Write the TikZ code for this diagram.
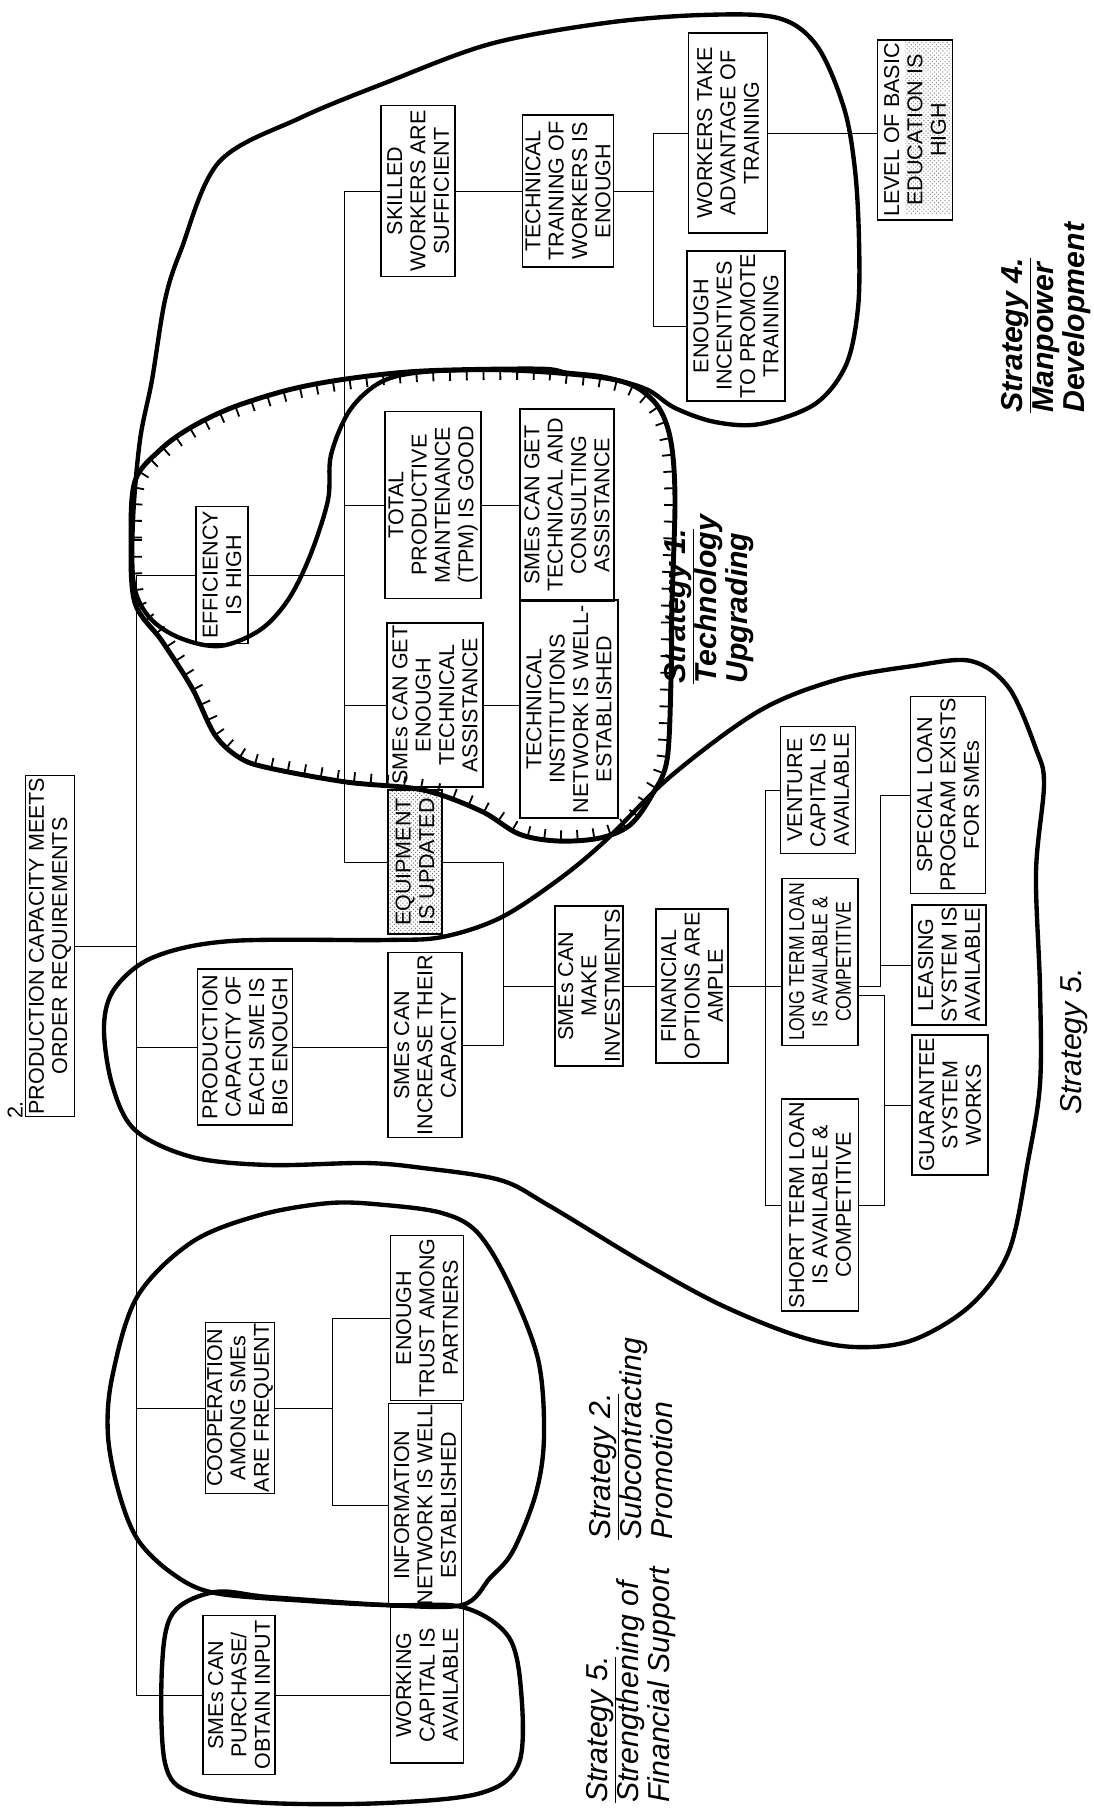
\documentclass[tikz,border=0pt]{standalone}
\usepackage{fontspec}
\setmainfont{Liberation Sans}
\newfontfamily\narrowfont[FakeStretch=0.82]{Liberation Sans}
\usetikzlibrary{decorations.markings,patterns}

\newcommand\boxfont{\fontsize{15.3}{16.6}\selectfont}
\newcommand\stratfont{\fontsize{21.5}{22.2}\selectfont}

\tikzset{
  box/.style={draw, line width=0.9pt, rotate=90, align=center, inner sep=1pt, font=\boxfont},
  sz/.style 2 args={minimum height=#1*0.025cm, minimum width=#2*0.025cm},
  link/.style={line width=0.7pt},
  blob/.style={line width=3.1pt, line join=round},
  hatched/.style={line width=3.5pt, line join=round,
    postaction={decorate, decoration={markings,
      mark=between positions 0 and 1 step 0.42cm with {\draw[line width=1.3pt] (0,0) -- (0,0.27cm);}}}},
  strat/.style={rotate=90, align=left, anchor=north west, inner sep=0pt, font=\stratfont\itshape},
}

\begin{document}
\begin{tikzpicture}[x=0.025cm, y=-0.025cm]
\useasboundingbox (0,0) rectangle (1093,1808);

% stipple on the basic education box
\fill[pattern=crosshatch dots, pattern color=black!45] (905,40) rectangle (951,214);

% goal
\node[box, sz={49}{341}] (root) at (50,946) {PRODUCTION CAPACITY MEETS\\ORDER REQUIREMENTS};
\node[rotate=90, font=\boxfont] (num) at (15,1110) {2.};

% efficiency branch
\node[box, sz={52}{137}] (eff) at (222,575) {EFFICIENCY\\IS HIGH};
\node[box, sz={74}{171}] (skill) at (418,191) {SKILLED\\WORKERS ARE\\SUFFICIENT};
\node[box, sz={91}{152}] (train) at (568,191) {TECHNICAL\\TRAINING OF\\WORKERS IS\\ENOUGH};
\node[box, sz={79}{200}] (wtake) at (728,133) {WORKERS TAKE\\ADVANTAGE OF\\TRAINING};
\node[box, sz={98}{150}] (incent) at (736,326) {ENOUGH\\INCENTIVES\\TO PROMOTE\\TRAINING};
\node[box, sz={75}{180}] (basic) at (915,130) {LEVEL OF BASIC\\EDUCATION IS\\HIGH};
\node[box, sz={96}{187}] (tpm) at (433,505) {TOTAL\\PRODUCTIVE\\MAINTENANCE\\(TPM) IS GOOD};
\node[box, sz={94}{192}] (consult) at (567,505) {SMEs CAN GET\\TECHNICAL AND\\CONSULTING\\ASSISTANCE};
\node[box, sz={96}{164}] (enough) at (435,705) {SMEs CAN GET\\ENOUGH\\TECHNICAL\\ASSISTANCE};
\node[box, sz={98}{218}] (instit) at (569,709) {TECHNICAL\\INSTITUTIONS\\NETWORK IS WELL-\\ESTABLISHED};
\node[box, sz={54}{144}, pattern=crosshatch dots, pattern color=black!55] (equip) at (415,862) {EQUIPMENT\\IS UPDATED};

% capacity branch
\node[box, sz={95}{156}] (prodcap) at (245,1047) {PRODUCTION\\CAPACITY OF\\EACH SME IS\\BIG ENOUGH};
\node[box, sz={74}{185}] (increase) at (425,1045) {SMEs CAN\\INCREASE THEIR\\CAPACITY};
\node[box, sz={68}{160}] (invest) at (589,986) {SMEs CAN\\MAKE\\INVESTMENTS};
\node[box, sz={72}{154}] (finopt) at (692,986) {FINANCIAL\\OPTIONS ARE\\AMPLE};
\node[box, sz={76}{167}, font=\narrowfont\boxfont] (long) at (820,962) {LONG TERM LOAN\\IS AVAILABLE \&\\COMPETITIVE};
\node[box, sz={75}{127}] (venture) at (818,790) {VENTURE\\CAPITAL IS\\AVAILABLE};
\node[box, sz={75}{197}] (special) at (948,795) {SPECIAL LOAN\\PROGRAM EXISTS\\FOR SMEs};
\node[box, sz={74}{120}] (leasing) at (949,965) {LEASING\\SYSTEM IS\\AVAILABLE};
\node[box, sz={76}{140}] (guarantee) at (950,1105) {GUARANTEE\\SYSTEM\\WORKS};
\node[box, sz={77}{212}] (short) at (820,1205) {SHORT TERM LOAN\\IS AVAILABLE \&\\COMPETITIVE};

% cooperation and input branches
\node[box, sz={69}{166}] (coop) at (240,1408) {COOPERATION\\AMONG SMEs\\ARE FREQUENT};
\node[box, sz={73}{165}] (trust) at (427,1318) {ENOUGH\\TRUST AMONG\\PARTNERS};
\node[box, sz={73}{203}] (infonet) at (425,1505) {INFORMATION\\NETWORK IS WELL\\ESTABLISHED};
\node[box, sz={72}{159}] (purchase) at (239,1695) {SMEs CAN\\PURCHASE/\\OBTAIN INPUT};
\node[box, sz={73}{156}] (working) at (427,1685) {WORKING\\CAPITAL IS\\AVAILABLE};

% bus lines
\coordinate (t1) at (136,575);
\coordinate (t2) at (344,575);
\coordinate (t3) at (653,191);
\coordinate (t4) at (503,986);
\coordinate (t5) at (765,986);
\coordinate (b5) at (880,986);
\coordinate (b6) at (884,995);
\coordinate (t6) at (332,1408);

\draw[link] (eff.north) -- (t1) -- (purchase.north -| t1) -- (purchase.north);
\draw[link] (root.south) -- (root.south -| t1);
\foreach \n in {prodcap, coop}
  \draw[link] (\n.north) -- (\n.north -| t1);

\draw[link] (eff.south) -- (t2);
\draw[link] (skill.north -| t2) -- (equip.north -| t2);
\foreach \n in {skill, tpm, enough, equip}
  \draw[link] (\n.north -| t2) -- (\n.north);

\draw[link] (skill.south) -- (skill.south -| train.north);
\draw[link] (train.south) -- (t3);
\draw[link] (wtake.north -| t3) -- (incent.north -| t3);
\foreach \n in {wtake, incent}
  \draw[link] (\n.north -| t3) -- (\n.north);
\draw[link] (wtake.south) -- (wtake.south -| basic.north);
\draw[link] (tpm.south) -- (tpm.south -| consult.north);
\draw[link] (enough.south) -- (enough.south -| instit.north);

\draw[link] (prodcap.south) -- (prodcap.south -| increase.north);
\draw[link] (equip.south) -- (equip.south -| t4) -- (increase.south -| t4) -- (increase.south);
\draw[link] (invest.north -| t4) -- (invest.north);
\draw[link] (invest.south) -- (invest.south -| finopt.north);
\draw[link] (venture.north) -- (venture.north -| t5) -- (short.north -| t5) -- (short.north);
\draw[link] (finopt.south) -- (finopt.south -| long.north);
\draw[link] (long.south |- b5) -- (b5) |- (special.north);
\draw[link] (leasing.north -| b5) -- (leasing.north);
\draw[link] (long.south |- b6) -- (b6) |- (short.south);
\draw[link] (guarantee.north -| b6) -- (guarantee.north);

\draw[link] (coop.south) -- (t6);
\draw[link] (trust.north -| t6) -- (infonet.north -| t6);
\foreach \n in {trust, infonet}
  \draw[link] (\n.north -| t6) -- (\n.north);
\draw[link] (purchase.south) -- (purchase.south -| working.north);

% strategy outlines
\draw[blob] plot[smooth cycle, tension=0.55] coordinates {
  (219,162) (300,118) (385,83) (490,44) (605,23) (702,15) (778,18) (817,46)
  (844,108) (855,170) (859,240) (858,308) (846,365) (815,404) (760,424)
  (715,422) (675,408) (648,390) (615,380) (567,374) (500,370) (423,372)
  (381,382) (350,410) (331,455) (328,500) (310,556) (288,600) (260,630)
  (220,646) (180,638) (150,618) (134,585) (133,520) (140,440) (152,380)
  (165,300) (181,250)};
\draw[hatched] plot[smooth cycle, tension=0.55] coordinates {
  (135,481) (131,540) (135,603) (162,641) (192,688) (215,735) (240,758)
  (269,768) (346,782) (423,790) (481,811) (519,834) (558,841) (600,838)
  (630,825) (652,795) (667,760) (671,680) (672,603) (675,500) (671,442)
  (659,408) (636,387) (603,377) (567,373) (538,369) (423,371) (346,379)
  (288,390) (231,408) (190,428) (160,450)};
\draw[blob] plot[smooth cycle, tension=0.55] coordinates {
  (104,1026) (115,988) (154,957) (231,941) (385,940) (442,937) (500,918)
  (558,880) (605,841) (671,776) (759,711) (836,680) (913,666) (971,661)
  (1009,688) (1036,749) (1044,784) (1036,872) (1040,988) (1040,1084)
  (1028,1161) (1009,1251) (971,1305) (913,1340) (855,1347) (798,1336)
  (721,1305) (644,1263) (548,1205) (500,1180) (423,1168) (365,1163)
  (269,1165) (192,1157) (135,1130) (112,1084)};
\draw[blob] plot[smooth cycle, tension=0.55] coordinates {
  (330,1203) (385,1205) (442,1213) (477,1232) (508,1282) (538,1359)
  (544,1436) (536,1493) (513,1551) (490,1578) (462,1605) (385,1605)
  (308,1601) (215,1593) (173,1574) (138,1540) (119,1493) (108,1436)
  (112,1378) (137,1297) (192,1242) (260,1215)};
\draw[blob] plot[smooth cycle, tension=0.55] coordinates {
  (215,1592) (269,1597) (385,1605) (462,1607) (508,1636) (521,1690)
  (519,1763) (481,1793) (385,1803) (269,1803) (192,1793) (165,1763)
  (162,1667) (173,1613)};

% strategy labels
\node[strat, font=\stratfont\bfseries\itshape] (s4) at (1001,413) {\underline{Strategy 4.}\\Manpower\\Development};
\node[strat, font=\stratfont\bfseries\itshape] (s1) at (664,684) {\underline{Strategy 1.}\\Technology\\Upgrading};
\node[strat] (s2) at (589,1540) {\underline{Strategy 2.}\\Subcontracting\\Promotion};
\node[strat] (s5a) at (586,1803) {\underline{Strategy 5.}\\Strengthening of\\Financial Support};
\node[strat] (s5b) at (1060,1115) {Strategy 5.};

\end{tikzpicture}
\end{document}
